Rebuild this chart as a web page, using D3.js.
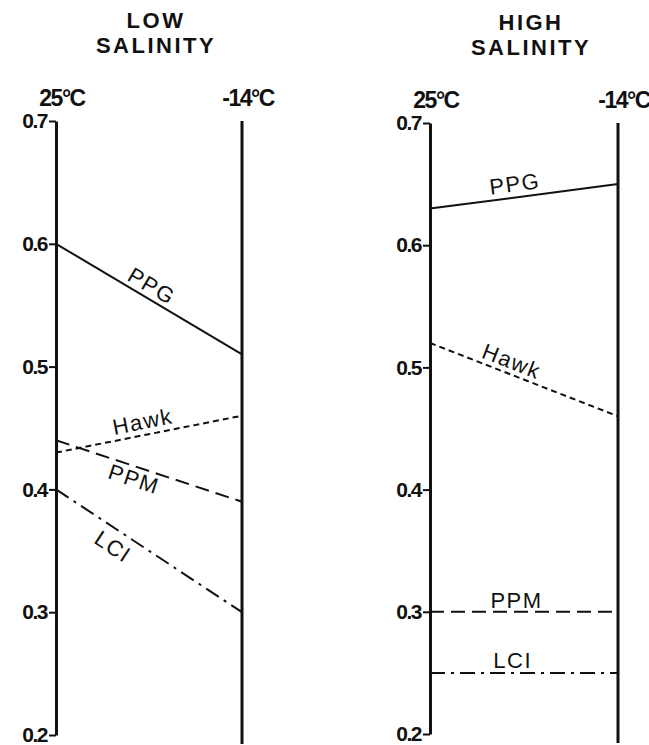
<!DOCTYPE html>
<html>
<head>
<meta charset="utf-8">
<script src="https://cdn.jsdelivr.net/npm/d3@7"></script>
<style>
  body { margin: 0; background: #fff; }
  svg text { font-family: "Liberation Sans", Arial, sans-serif; fill: #111; }
</style>
</head>
<body>
<div id="chart"></div>
<script>
(function(){
	var width = 649,
	    height = 745;

	// chart values
	var panelTitles = [["LOW", "SALINITY"], ["HIGH", "SALINITY"]];
	var temps = ["25°C", "-14°C"];
	var yTicks = [0.2, 0.3, 0.4, 0.5, 0.6, 0.7];
	var seriesNames = ["PPG", "Hawk", "PPM", "LCI"];
	var lowValues = [[0.60, 0.51], [0.43, 0.46], [0.44, 0.39], [0.40, 0.30]];
	var highValues = [[0.63, 0.65], [0.52, 0.46], [0.30, 0.30], [0.25, 0.25]];

	// line style per series
	var dashes = { "PPG": null, "Hawk": "6,4", "PPM": "14,7", "LCI": "15,6,3,6" };

	// panel layout: where each panel sits and where its labels go
	var panels = [
	  { title: panelTitles[0], values: lowValues, x: [56, 242], y: [735, 121],
	    labelAt: { "PPG": [0.48, -5], "Hawk": [0.48, -6], "PPM": [0.44, 20], "LCI": [0.355, 24] } },
	  { title: panelTitles[1], values: highValues, x: [430, 618], y: [734, 123],
	    labelAt: { "PPG": [0.46, -6], "Hawk": [0.41, -5], "PPM": [0.46, -4], "LCI": [0.44, -5] } }
	];

	var svg = d3.select("#chart")
	  .append("svg")
	  .attr("width", width)
	  .attr("height", height);

	panels.forEach(function(p) {
		var x = d3.scalePoint().domain(temps).range(p.x);
		var y = d3.scaleLinear().domain([0.2, 0.7]).range(p.y);
		var g = svg.append("g");
		var mid = (p.x[0] + p.x[1]) / 2 + 7;

		// title, two lines
		g.selectAll(".title")
		  .data(p.title)
		  .enter().append("text")
		  .attr("class", "title")
		  .attr("x", mid)
		  .attr("y", function(d, i) { return (p.y[1] - 93) + i * 25 })
		  .attr("text-anchor", "middle")
		  .style("font-size", "22px")
		  .style("font-weight", "bold")
		  .style("letter-spacing", "2.5px")
		  .text(function(d) { return d });

		// temperature labels above the two verticals
		g.selectAll(".temp")
		  .data(temps)
		  .enter().append("text")
		  .attr("class", "temp")
		  .attr("x", function(d) { return x(d) + 6 })
		  .attr("y", p.y[1] - 15)
		  .attr("text-anchor", "middle")
		  .style("font-size", "23px")
		  .style("font-weight", "bold")
		  .style("letter-spacing", "-1.5px")
		  .text(function(d) { return d });

		// left axis at 25°C
		var axis = g.append("g")
		  .attr("transform", "translate(" + x(temps[0]) + ",0)")
		  .call(d3.axisLeft(y).tickValues(yTicks)
		    .tickFormat(d3.format(".1f"))
		    .tickSize(7).tickSizeOuter(0).tickPadding(2));
		axis.select(".domain").attr("stroke-width", 3).attr("stroke", "#111");
		axis.selectAll(".tick line").attr("stroke-width", 2).attr("stroke", "#111");
		axis.selectAll(".tick text")
		  .attr("fill", "#111")
		  .style("font-family", "'Liberation Sans', Arial, sans-serif")
		  .style("font-size", "21px")
		  .style("font-weight", "bold")
		  .style("letter-spacing", "-1.5px");

		// vertical at -14°C
		g.append("line")
		  .attr("x1", x(temps[1])).attr("x2", x(temps[1]))
		  .attr("y1", y(0.7)).attr("y2", y(0.2) + 9)
		  .attr("stroke", "#111")
		  .attr("stroke-width", 3);

		// series lines
		var rows = seriesNames.map(function(name, i) {
			return { name: name, v: p.values[i] }
		});

		g.selectAll(".series")
		  .data(rows)
		  .enter().append("line")
		  .attr("class", "series")
		  .attr("x1", x(temps[0]))
		  .attr("x2", x(temps[1]))
		  .attr("y1", function(d) { return y(d.v[0]) })
		  .attr("y2", function(d) { return y(d.v[1]) })
		  .attr("stroke", "#111")
		  .attr("stroke-width", 2)
		  .attr("stroke-dasharray", function(d) { return dashes[d.name] });

		// labels placed along each line, rotated with it
		g.selectAll(".lab")
		  .data(rows)
		  .enter().append("text")
		  .attr("class", "lab")
		  .attr("transform", function(d) {
		  	var t = p.labelAt[d.name][0],
		  	    off = p.labelAt[d.name][1];
		  	var x0 = x(temps[0]), x1 = x(temps[1]),
		  	    y0 = y(d.v[0]), y1 = y(d.v[1]);
		  	var ang = Math.atan2(y1 - y0, x1 - x0);
		  	var px = x0 + t * (x1 - x0), py = y0 + t * (y1 - y0);
		  	// shift perpendicular to the line
		  	px += -Math.sin(ang) * off;
		  	py += Math.cos(ang) * off;
		  	return "translate(" + px + "," + py + ") rotate(" + (ang * 180 / Math.PI) + ")";
		  })
		  .attr("text-anchor", "middle")
		  .style("font-size", "22px")
		  .style("letter-spacing", "1.5px")
		  .text(function(d) { return d.name });
	});
})();
</script>
</body>
</html>
